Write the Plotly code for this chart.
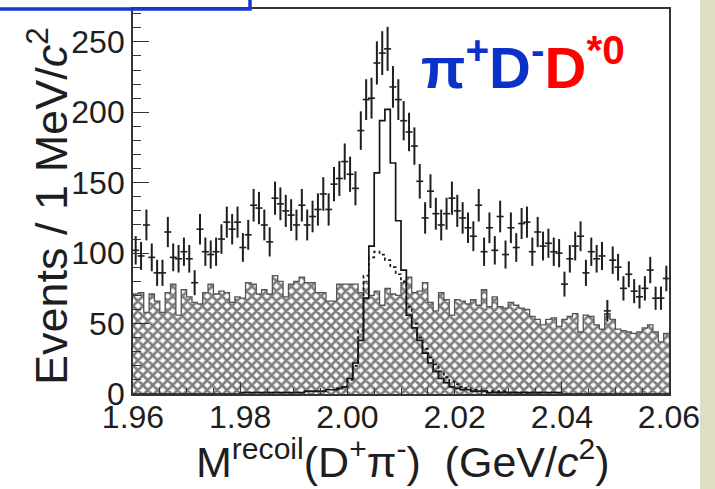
import numpy as np
import plotly.graph_objects as go

# ---------------- data (1 MeV bins from 1.96 to 2.06 GeV/c^2) ----------------
bin_lo = 1.96
bin_w = 0.001

data_counts = [102, 98, 120, 97, 86, 86, 115, 97, 96, 101,
               96, 79, 117, 101, 99, 101, 110, 122, 117, 122,
               104, 113, 134, 132, 120, 108, 139, 135, 130, 127,
               120, 134, 120, 126, 131, 142, 131, 149, 153, 165,
               156, 146, 187, 209, 210, 235, 242, 245, 218, 209,
               194, 186, 176, 151, 125, 144, 128, 120, 128, 139,
               130, 125, 118, 112, 134, 101, 118, 102, 126, 99,
               118, 104, 121, 122, 101, 115, 105, 107, 101, 100,
               78, 96, 105, 112, 86, 101, 96, 98, 59, 95,
               90, 75, 85, 73, 69, 75, 88, 68, 68, 82]

bkg_counts = [71, 72, 58, 71, 66, 58, 72, 78, 56, 74,
              69, 65, 64, 72, 78, 71, 73, 72, 65, 69,
              68, 79, 78, 71, 74, 71, 84, 80, 69, 78,
              80, 83, 79, 79, 72, 72, 66, 66, 78, 78,
              78, 78, 72, 80, 70, 73, 63, 75, 71, 70,
              79, 83, 72, 73, 79, 65, 59, 72, 67, 56,
              67, 66, 64, 67, 63, 74, 62, 69, 62, 61,
              65, 63, 61, 60, 55, 53, 49, 53, 54, 48,
              53, 55, 57, 44, 56, 55, 49, 46, 57, 53,
              46, 45, 44, 43, 44, 47, 49, 44, 37, 43]

sig_counts = [0, 0, 0, 0, 0, 0, 0, 0, 0, 0,
              0, 0, 0, 0, 0, 0, 0, 0, 0, 0,
              1, 1, 1, 1, 1, 1, 1, 1, 1, 1,
              1, 1, 2, 2, 2, 2, 3, 3, 4, 5,
              11, 22, 38, 68, 105, 157, 194, 202, 164, 123,
              88, 56, 47, 38, 29, 22, 16, 11, 8, 5,
              4, 3, 3, 2, 2, 2, 1, 1, 1, 1,
              1, 1, 1, 1, 1, 1, 1, 1, 1, 1,
              0, 0, 0, 0, 0, 0, 0, 0, 0, 0,
              0, 0, 0, 0, 0, 0, 0, 0, 0, 0]

dot_first_bin = 38
dot_counts = [3, 5, 10, 20, 45, 84, 97, 101, 99, 95,
              90, 85, 80, 62, 50, 40, 32, 26, 21, 16,
              12, 9, 7, 5, 4, 3, 3, 2, 2, 2,
              2, 2, 1, 1, 1, 1, 1, 1]

x_ticks = [1.96, 1.98, 2.00, 2.02, 2.04, 2.06]
y_ticks = [0, 50, 100, 150, 200, 250]

# ---------------- derived ----------------
n_bins = len(data_counts)
edges = bin_lo + bin_w * np.arange(n_bins + 1)
centers = edges[:-1] + bin_w / 2
dot_edges = edges[dot_first_bin:dot_first_bin + len(dot_counts) + 1]

FONT = "Liberation Sans, Arial, Helvetica, sans-serif"
INK = "#1e1e1e"

fig = go.Figure()

# hatched background histogram
fig.add_trace(go.Bar(
    x=centers, y=bkg_counts, width=bin_w,
    marker=dict(color="white",
                pattern=dict(shape="x", fgcolor="#000000", bgcolor="white",
                             size=7, solidity=0.62),
                line=dict(width=0)),
    hoverinfo="skip"))
# its step outline
fig.add_trace(go.Scatter(
    x=edges, y=list(bkg_counts) + [bkg_counts[-1]], mode="lines",
    line=dict(shape="hv", color="#555555", width=1.3), hoverinfo="skip"))

# solid histogram
fig.add_trace(go.Scatter(
    x=edges, y=list(sig_counts) + [sig_counts[-1]], mode="lines",
    line=dict(shape="hv", color="#151515", width=1.7), hoverinfo="skip"))

# dotted histogram
fig.add_trace(go.Scatter(
    x=dot_edges, y=list(dot_counts) + [dot_counts[-1]], mode="lines",
    line=dict(shape="hv", color="#151515", width=1.7, dash="dot"), hoverinfo="skip"))

# data points with sqrt(N) errors
fig.add_trace(go.Scatter(
    x=centers, y=data_counts, mode="markers",
    marker=dict(symbol="line-ew", size=5, color=INK, line=dict(color=INK, width=1.6)),
    error_y=dict(type="data", array=np.sqrt(data_counts), thickness=2.0,
                 width=0, color=INK),
    hoverinfo="skip"))

# plot-area geometry in pixels
L, R, T, B = 133, 669, 7, 394
PW, PH = R - L, B - T


def px(xp):
    return (xp - L) / PW


def py(yp):
    return (B - yp) / PH


fig.update_layout(
    width=715, height=489,
    margin=dict(l=L, r=715 - R, t=T, b=489 - B),
    paper_bgcolor="white", plot_bgcolor="white",
    bargap=0, showlegend=False,
    font=dict(family=FONT, color=INK),
    xaxis=dict(range=[1.96, 2.06], tickvals=x_ticks,
               ticktext=["%.2f" % v for v in x_ticks],
               ticks="inside", ticklen=12, tickwidth=1.4, tickcolor="#333",
               minor=dict(ticks="inside", ticklen=6, dtick=0.005, tickcolor="#333"),
               showline=True, mirror=True, linewidth=1.8, linecolor="#333",
               showgrid=False, zeroline=False, ticklabelstandoff=-6,
               tickfont=dict(size=32, family=FONT, color=INK)),
    yaxis=dict(range=[0, PH / 1.416], tickvals=y_ticks,
               ticks="inside", ticklen=16, tickwidth=1.4, tickcolor="#333",
               minor=dict(ticks="inside", ticklen=8, dtick=10, tickcolor="#333"),
               showline=True, mirror=True, linewidth=1.8, linecolor="#333",
               showgrid=False, zeroline=False,
               tickfont=dict(size=32, family=FONT, color=INK)),
)

# axis titles
fig.add_annotation(
    text="Events / 1 MeV/<i>c</i><sup>2</sup>", textangle=-90,
    xref="paper", yref="paper", x=px(48), y=py(205),
    xanchor="center", yanchor="middle", showarrow=False,
    font=dict(size=45, family=FONT, color=INK))
fig.add_annotation(
    text="M<sup>recoil</sup>(D<sup>+</sup>π<sup>-</sup>)\u00a0\u00a0(GeV/<i>c</i><sup>2</sup>)",
    xref="paper", yref="paper", x=px(403), y=py(459),
    xanchor="center", yanchor="middle", showarrow=False,
    font=dict(size=43, family=FONT, color=INK))

# channel label
fig.add_annotation(
    text="<b><span style='color:#0a32c8'>π<sup>+</sup>D<sup>-</sup></span>"
         "<span style='color:#ff0000'>D<sup>*0</sup></span></b>",
    xref="paper", yref="paper", x=px(523), y=py(62),
    xanchor="center", yanchor="middle", showarrow=False,
    font=dict(size=58, family=FONT))

# blue frame fragment at top-left and slide background strip
fig.add_shape(type="rect", xref="paper", yref="paper",
              x0=px(-10), x1=px(250), y0=py(7), y1=py(-10),
              line=dict(color="#1438d0", width=3.5), fillcolor="rgba(0,0,0,0)")
fig.add_shape(type="rect", xref="paper", yref="paper", layer="below",
              x0=px(700), x1=px(720), y0=py(500), y1=py(-10),
              line=dict(width=0), fillcolor="#dedfc2")

fig.write_html("out.html",
               config={"displayModeBar": False},
               post_script="document.body.style.margin='0';document.body.style.overflow='hidden';")
